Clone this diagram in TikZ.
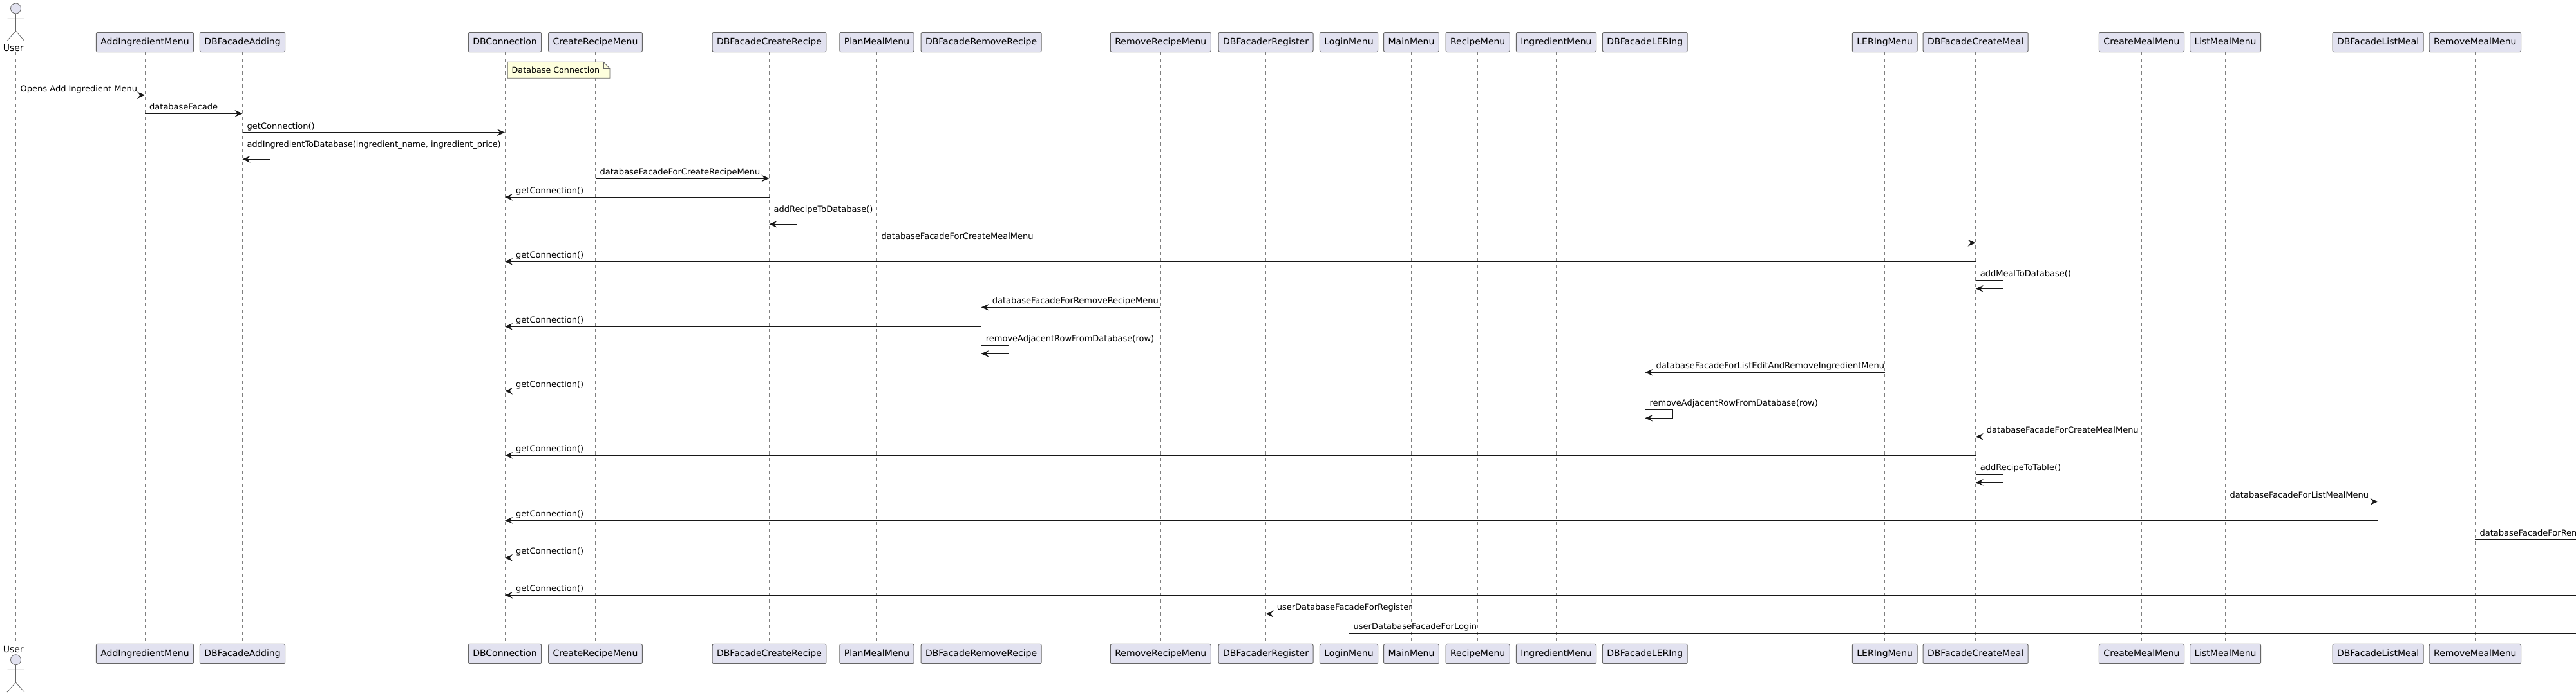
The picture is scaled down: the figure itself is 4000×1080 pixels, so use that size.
\documentclass[tikz,border=0pt]{standalone}
\usepackage{fontspec}
\setmainfont{DejaVu Sans}
\usetikzlibrary{positioning,arrows.meta}
\definecolor{partfill}{HTML}{E2E2F0}
\definecolor{partline}{HTML}{666666}
\definecolor{lifegray}{HTML}{7F7F7F}
\definecolor{notefill}{HTML}{FEFFDD}
\definecolor{msgline}{HTML}{181818}

\begin{document}
\begin{tikzpicture}[x=1pt,y=-1pt,
	part/.style={draw=partline,fill=partfill,rounded corners=2.5pt,line width=1pt,inner xsep=7pt,inner ysep=0pt,
		minimum height=30.4pt,text height=10pt,text depth=2.5pt,font=\fontsize{14pt}{16pt}\selectfont},
	lifeline/.style={draw=lifegray,line width=.8pt,dash pattern=on 5pt off 5pt},
	msg/.style={draw=msgline,line width=1pt,-{Stealth[length=12pt,width=10.5pt,inset=4.5pt]}},
	msgplain/.style={draw=msgline,line width=1pt},
	msglabel/.style={anchor=base west,inner sep=0pt,font=\fontsize{13pt}{15pt}\selectfont},
	actor/.style={draw=partline,line width=.8pt},
	actorlabel/.style={inner sep=0pt,font=\fontsize{14pt}{16pt}\selectfont}]

	\useasboundingbox (0,0) rectangle (4000,1080);
	\coordinate (EdgeR) at (4000,0);

	% participants, top and bottom
	\foreach \name/\xpos in {AddIngredientMenu/225,DBFacadeAdding/376.5,DBConnection/784,CreateRecipeMenu/924.5,
		DBFacadeCreateRecipe/1194.5,PlanMealMenu/1361.5,DBFacadeRemoveRecipe/1523.6,RemoveRecipeMenu/1802.3,
		DBFacaderRegister/1965.6,LoginMenu/2094.5,MainMenu/2191.5,RecipeMenu/2294.7,IngredientMenu/2416.5,
		DBFacadeLERIng/2554.3,LERIngMenu/2926.7,DBFacadeCreateMeal/3067.6,CreateMealMenu/3325.5,
		ListMealMenu/3455.5,DBFacadeListMeal/3692.6,RemoveMealMenu/3843.3}{
		\node[part] (\name) at (\xpos,65.5) {\name};
		\node[part] (b\name) at (\xpos,1015.5) {\name};
		\draw[lifeline] (\name) -- (b\name);
	}

	% actor
	\coordinate (User) at (24.5,81);
	\coordinate (bUser) at (24.5,1000);
	\draw[lifeline] (User) -- (bUser);
	\node[actorlabel] (UserTop) at (20.8,74) {User};
	\node[actor,circle,fill=partfill,minimum size=16pt,inner sep=0pt] (HeadTop) at (24.5,13) {};
	\draw[actor] (HeadTop) -- (24.5,48) -- (11,63.5) (24.5,48) -- (37.8,63.5) (11.5,29.3) -- (37.8,29.3);
	\node[actorlabel] (UserBot) at (20.8,1008) {User};
	\node[actor,circle,fill=partfill,minimum size=16pt,inner sep=0pt] (HeadBot) at (24.5,1024.7) {};
	\draw[actor] (HeadBot) -- (24.5,1060) -- (11,1075) (24.5,1060) -- (37.8,1075) (11.5,1040.3) -- (37.8,1040.3);

	% note
	\draw[actor,fill=notefill] (788.3,96.3) -- (937,96.3) -- (947,106.3) -- (947,121.3) -- (788.3,121.3) -- cycle;
	\draw[actor] (937,96.3) -- (937,106.3) -- (947,106.3);
	\node[msglabel,font=\fontsize{12.7pt}{15pt}\selectfont] (DBNote) at (794.5,113.5) {Database Connection};

	% message rows
	\foreach \row/\ypos in {m01/147.7,m02/176.3,m03/205.7,m04/234.3,m05/277,m06/306.3,m07/335.3,m08/377.3,m09/406.3,
		m10/435.3,m11/477.3,m12/507.3,m13/536.3,m14/578.3,m15/607.3,m16/636.3,m17/678.3,m18/707.3,m19/736.3,
		m20/779.3,m21/808.3,m22/837.7,m23/866.3,m24/924.3,m25/953.3,m26/983}{
		\coordinate (\row) at (0,\ypos);
	}

	\draw[msg] (User |- m01) -- (AddIngredientMenu |- m01);
	\node[msglabel,xshift=7pt,yshift=5.5pt] (l01) at (User |- m01) {Opens Add Ingredient Menu};
	\draw[msg] (AddIngredientMenu |- m02) -- (DBFacadeAdding |- m02);
	\node[msglabel,xshift=7pt,yshift=5.5pt] (l02) at (AddIngredientMenu |- m02) {databaseFacade};
	\draw[msg] (DBFacadeAdding |- m03) -- (DBConnection |- m03);
	\node[msglabel,xshift=7pt,yshift=5.5pt] (l03) at (DBFacadeAdding |- m03) {getConnection()};
	\draw[msg] (DBFacadeAdding |- m04) -- ++(43,0) |- ([yshift=-13pt]DBFacadeAdding |- m04);
	\node[msglabel,xshift=7pt,yshift=5.5pt,font=\fontsize{12.8pt}{15pt}\selectfont] (l04) at (DBFacadeAdding |- m04) {addIngredientToDatabase(ingredient\_name, ingredient\_price)};

	\draw[msg] (CreateRecipeMenu |- m05) -- (DBFacadeCreateRecipe |- m05);
	\node[msglabel,xshift=7pt,yshift=5.5pt] (l05) at (CreateRecipeMenu |- m05) {databaseFacadeForCreateRecipeMenu};
	\draw[msg] (DBFacadeCreateRecipe |- m06) -- (DBConnection |- m06);
	\node[msglabel,xshift=17pt,yshift=5.5pt] (l06) at (DBConnection |- m06) {getConnection()};
	\draw[msg] (DBFacadeCreateRecipe |- m07) -- ++(43,0) |- ([yshift=-13pt]DBFacadeCreateRecipe |- m07);
	\node[msglabel,xshift=7pt,yshift=5.5pt] (l07) at (DBFacadeCreateRecipe |- m07) {addRecipeToDatabase()};

	\draw[msg] (PlanMealMenu |- m08) -- (DBFacadeCreateMeal |- m08);
	\node[msglabel,xshift=7pt,yshift=5.5pt] (l08) at (PlanMealMenu |- m08) {databaseFacadeForCreateMealMenu};
	\draw[msg] (DBFacadeCreateMeal |- m09) -- (DBConnection |- m09);
	\node[msglabel,xshift=17pt,yshift=5.5pt] (l09) at (DBConnection |- m09) {getConnection()};
	\draw[msg] (DBFacadeCreateMeal |- m10) -- ++(43,0) |- ([yshift=-13pt]DBFacadeCreateMeal |- m10);
	\node[msglabel,xshift=7pt,yshift=5.5pt] (l10) at (DBFacadeCreateMeal |- m10) {addMealToDatabase()};

	\draw[msg] (RemoveRecipeMenu |- m11) -- (DBFacadeRemoveRecipe |- m11);
	\node[msglabel,xshift=17pt,yshift=5.5pt] (l11) at (DBFacadeRemoveRecipe |- m11) {databaseFacadeForRemoveRecipeMenu};
	\draw[msg] (DBFacadeRemoveRecipe |- m12) -- (DBConnection |- m12);
	\node[msglabel,xshift=17pt,yshift=5.5pt] (l12) at (DBConnection |- m12) {getConnection()};
	\draw[msg] (DBFacadeRemoveRecipe |- m13) -- ++(43,0) |- ([yshift=-13pt]DBFacadeRemoveRecipe |- m13);
	\node[msglabel,xshift=7pt,yshift=5.5pt] (l13) at (DBFacadeRemoveRecipe |- m13) {removeAdjacentRowFromDatabase(row)};

	\draw[msg] (LERIngMenu |- m14) -- (DBFacadeLERIng |- m14);
	\node[msglabel,xshift=17pt,yshift=5.5pt] (l14) at (DBFacadeLERIng |- m14) {databaseFacadeForListEditAndRemoveIngredientMenu};
	\draw[msg] (DBFacadeLERIng |- m15) -- (DBConnection |- m15);
	\node[msglabel,xshift=17pt,yshift=5.5pt] (l15) at (DBConnection |- m15) {getConnection()};
	\draw[msg] (DBFacadeLERIng |- m16) -- ++(43,0) |- ([yshift=-13pt]DBFacadeLERIng |- m16);
	\node[msglabel,xshift=7pt,yshift=5.5pt] (l16) at (DBFacadeLERIng |- m16) {removeAdjacentRowFromDatabase(row)};

	\draw[msg] (CreateMealMenu |- m17) -- (DBFacadeCreateMeal |- m17);
	\node[msglabel,xshift=17pt,yshift=5.5pt] (l17) at (DBFacadeCreateMeal |- m17) {databaseFacadeForCreateMealMenu};
	\draw[msg] (DBFacadeCreateMeal |- m18) -- (DBConnection |- m18);
	\node[msglabel,xshift=17pt,yshift=5.5pt] (l18) at (DBConnection |- m18) {getConnection()};
	\draw[msg] (DBFacadeCreateMeal |- m19) -- ++(43,0) |- ([yshift=-13pt]DBFacadeCreateMeal |- m19);
	\node[msglabel,xshift=7pt,yshift=5.5pt] (l19) at (DBFacadeCreateMeal |- m19) {addRecipeToTable()};

	\draw[msg] (ListMealMenu |- m20) -- (DBFacadeListMeal |- m20);
	\node[msglabel,xshift=7pt,yshift=5.5pt] (l20) at (ListMealMenu |- m20) {databaseFacadeForListMealMenu};
	\draw[msg] (DBFacadeListMeal |- m21) -- (DBConnection |- m21);
	\node[msglabel,xshift=17pt,yshift=5.5pt] (l21) at (DBConnection |- m21) {getConnection()};

	% these run off the right side of the picture
	\draw[msgplain] (RemoveMealMenu |- m22) -- (EdgeR |- m22);
	\node[msglabel,xshift=7pt,yshift=5.5pt] (l22) at (RemoveMealMenu |- m22) {databaseFacadeForRem};
	\draw[msg] (EdgeR |- m23) -- (DBConnection |- m23);
	\node[msglabel,xshift=17pt,yshift=5.5pt] (l23) at (DBConnection |- m23) {getConnection()};
	\draw[msg] (EdgeR |- m24) -- (DBConnection |- m24);
	\node[msglabel,xshift=17pt,yshift=5.5pt] (l24) at (DBConnection |- m24) {getConnection()};
	\draw[msg] (EdgeR |- m25) -- (DBFacaderRegister |- m25);
	\node[msglabel,xshift=17pt,yshift=5.5pt] (l25) at (DBFacaderRegister |- m25) {userDatabaseFacadeForRegister};
	\draw[msgplain] (LoginMenu |- m26) -- (EdgeR |- m26);
	\node[msglabel,xshift=7pt,yshift=5.5pt] (l26) at (LoginMenu |- m26) {userDatabaseFacadeForLogin};
\end{tikzpicture}
\end{document}
